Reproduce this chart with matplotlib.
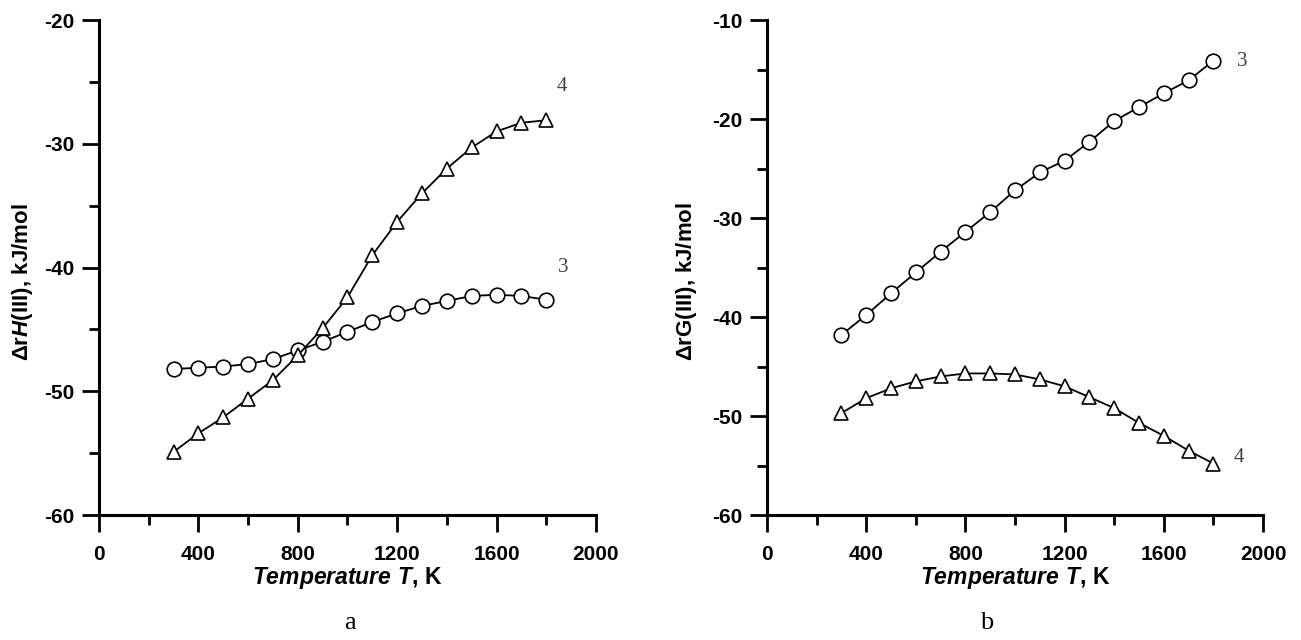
import matplotlib
matplotlib.use("Agg")
import matplotlib.pyplot as plt
from matplotlib.ticker import MultipleLocator

plt.rcParams['font.family'] = ['Liberation Sans', 'DejaVu Sans']
plt.rcParams['axes.unicode_minus'] = False
plt.rcParams['mathtext.fontset'] = 'custom'
plt.rcParams['mathtext.rm'] = 'Liberation Sans:bold'
plt.rcParams['mathtext.bf'] = 'Liberation Sans:bold'
plt.rcParams['mathtext.it'] = 'Liberation Sans:bold:italic'

# temperatures, K
T = [300, 400, 500, 600, 700, 800, 900, 1000, 1100, 1200, 1300, 1400, 1500, 1600, 1700, 1800]

# panel a: enthalpy, kJ/mol
dH3 = [-48.2, -48.1, -48.0, -47.8, -47.4, -46.7, -46.0, -45.2, -44.4, -43.7, -43.1, -42.7, -42.3, -42.2, -42.3, -42.6]
dH4 = [-54.9, -53.4, -52.1, -50.6, -49.1, -47.1, -44.9, -42.4, -39.0, -36.3, -34.0, -32.0, -30.3, -29.0, -28.3, -28.1]

# panel b: Gibbs energy, kJ/mol
dG3 = [-41.8, -39.8, -37.6, -35.5, -33.4, -31.4, -29.4, -27.2, -25.4, -24.2, -22.3, -20.2, -18.8, -17.4, -16.1, -14.1]
dG4 = [-49.7, -48.2, -47.2, -46.5, -46.0, -45.7, -45.7, -45.8, -46.3, -47.0, -48.1, -49.2, -50.7, -52.0, -53.5, -54.8]

fig = plt.figure(figsize=(13.01, 6.40), dpi=100)
axa = fig.add_axes([0.0761, 0.1953, 0.3820, 0.7734])
axb = fig.add_axes([0.5896, 0.1953, 0.3812, 0.7734])


def style(ax, ylo, yhi):
    ax.set_xlim(0, 2000)
    ax.set_ylim(ylo, yhi)
    ax.spines['top'].set_visible(False)
    ax.spines['right'].set_visible(False)
    for s in ('left', 'bottom'):
        ax.spines[s].set_linewidth(2.2)
    ax.xaxis.set_major_locator(MultipleLocator(400))
    ax.xaxis.set_minor_locator(MultipleLocator(200))
    ax.yaxis.set_major_locator(MultipleLocator(10))
    ax.yaxis.set_minor_locator(MultipleLocator(5))
    ax.tick_params(which='major', direction='out', length=12.5, width=2.0,
                   labelsize=15, pad=5)
    ax.tick_params(which='minor', direction='out', length=7.5, width=2.0)
    ax.tick_params(axis='x', which='major', pad=9)
    for lab in ax.get_xticklabels() + ax.get_yticklabels():
        lab.set_fontweight('bold')
    ax.set_xlabel(r'$\mathit{Temperature\ T{,}}\ \mathrm{K}$', fontsize=16.5, labelpad=1)


mk = dict(color='black', lw=1.3, markerfacecolor='white', markeredgecolor='black',
          markeredgewidth=1.2, markersize=10.5)

axa.plot(T, dH3, marker='o', **mk)
axa.plot(T, dH4, marker='^', **mk)
style(axa, -60, -20)

axb.plot(T, dG3, marker='o', **mk)
axb.plot(T, dG4, marker='^', **mk)
style(axb, -60, -10)

serif = dict(family=['Liberation Serif', 'DejaVu Serif'], color='#404040', fontsize=15)
axa.text(1863, -25.4, '4', ha='center', va='center', **serif)
axa.text(1867, -40.0, '3', ha='center', va='center', **serif)
axb.text(1915, -14.2, '3', ha='center', va='center', **serif)
axb.text(1903, -54.2, '4', ha='center', va='center', **serif)

fig.text(23 / 1301, 1 - 282 / 640, r'$\mathrm{\Delta r}\mathit{H}\mathrm{(III){,}\ kJ/mol}$',
         rotation=90, ha='center', va='center', fontsize=16)
fig.text(687 / 1301, 1 - 282 / 640, r'$\mathrm{\Delta rG(III){,}\ kJ/mol}$',
         rotation=90, ha='center', va='center', fontsize=16)

cap = dict(family=['Liberation Serif', 'DejaVu Serif'], fontsize=19, ha='center', va='center')
fig.text(350 / 1301, 1 - 623 / 640, 'a', **cap)
fig.text(987 / 1301, 1 - 623 / 640, 'b', **cap)

fig.savefig('out.png', dpi=100)
